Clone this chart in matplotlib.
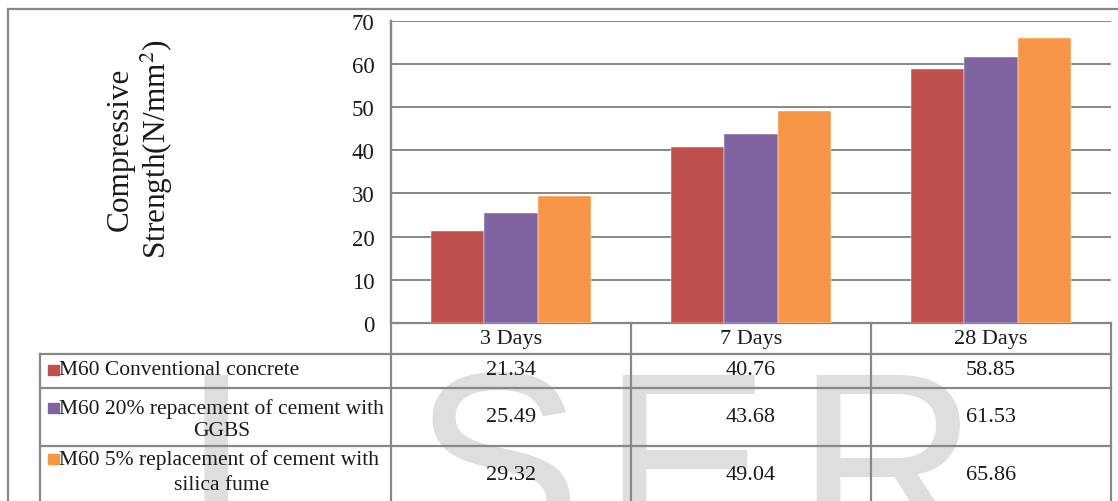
import matplotlib
matplotlib.use("Agg")
import matplotlib.pyplot as plt
import numpy as np

# ---- data -------------------------------------------------------------
categories = ["3 Days", "7 Days", "28 Days"]
series_names = [
    "M60 Conventional concrete",
    "M60 20% repacement of cement with\nGGBS",
    "M60 5% replacement of cement with\nsilica fume",
]
conventional = [21.34, 40.76, 58.85]
ggbs_20 = [25.49, 43.68, 61.53]
silica_fume_5 = [29.32, 49.04, 65.86]
series_values = [conventional, ggbs_20, silica_fume_5]
series_colors = ["#C0504D", "#8064A2", "#F79646"]
y_ticks = [0, 10, 20, 30, 40, 50, 60, 70]
y_label = "Compressive\nStrength(N/mm$^{2}$)"
watermark_letters = ["I", "S", "E", "R"]

# ---- style ------------------------------------------------------------
plt.rcParams["font.family"] = ["Liberation Serif", "DejaVu Serif"]
plt.rcParams["mathtext.fontset"] = "stix"
LINE = "#878787"
TEXT = "#1a1a1a"

W, H = 1118, 502
fig = plt.figure(figsize=(W / 100, H / 100), dpi=100)

# overlay in pixel coordinates for the frame, watermark and data table
ov = fig.add_axes([0, 0, 1, 1], zorder=0)
ov.set_xlim(0, W)
ov.set_ylim(H, 0)
ov.axis("off")

PL, PR, PT, PB = 391, 1111, 21.5, 324
ax = fig.add_axes([PL / W, 1 - PB / H, (PR - PL) / W, (PB - PT) / H], zorder=1)
ax.patch.set_alpha(0)

# ---- bars -------------------------------------------------------------
x = np.arange(len(categories))
bw = 0.222
for i, (vals, col) in enumerate(zip(series_values, series_colors)):
    ax.bar(x + (i - 1) * bw, vals, width=bw, color=col, zorder=3,
           edgecolor="white", linewidth=0.3)

ax.set_xlim(-0.5, len(categories) - 0.5)
ax.set_ylim(0, 70)
ax.set_yticks(y_ticks)
ax.set_xticks([])
ax.grid(axis="y", color=LINE, linewidth=1.4, zorder=0)
ax.tick_params(axis="y", length=0, pad=12, labelsize=16.5, labelcolor=TEXT)
for s in ["top", "right", "bottom"]:
    ax.spines[s].set_visible(False)
ax.spines["left"].set_color(LINE)
ax.spines["left"].set_linewidth(1.6)

# ---- outer frame ------------------------------------------------------
ov.plot([8, 8], [10, H], color=LINE, lw=1.6)
ov.plot([8, W], [10, 10], color=LINE, lw=1.6)

# ---- y label ----------------------------------------------------------
ov.text(140, 149, y_label, rotation=90, ha="center", va="center",
        fontsize=22.5, color=TEXT, linespacing=1.15)

# ---- watermark --------------------------------------------------------
for letter, xc in zip(watermark_letters, [216, 497, 686, 887]):
    ov.text(xc, 366, letter, ha="center", va="top", fontsize=182,
            family="Liberation Sans", color="#dedede", zorder=0.5)

# ---- data table -------------------------------------------------------
ncol = len(categories)
col_edges = [PL + k * (PR - PL) / ncol for k in range(ncol + 1)]
col_centers = [(col_edges[k] + col_edges[k + 1]) / 2 for k in range(ncol)]
row_edges = [355, 389, 447, H + 5]
TL = 40  # left edge of series-name column

# vertical lines
ov.plot([PL, PL], [PT, H], color=LINE, lw=1.6, zorder=2)
for xe in col_edges[1:]:
    ov.plot([xe, xe], [PB, H], color=LINE, lw=1.6, zorder=2)
ov.plot([TL, TL], [row_edges[0], H], color=LINE, lw=1.6, zorder=2)
# horizontal lines
ov.plot([PL, PR], [PB, PB], color=LINE, lw=1.6, zorder=2)
for ye in row_edges[:-1]:
    ov.plot([TL, PR], [ye, ye], color=LINE, lw=1.6, zorder=2)

# header
for xc, cat in zip(col_centers, categories):
    ov.text(xc, 340, cat, ha="center", va="center", fontsize=16, color=TEXT,
            zorder=3)

# rows
row_value_y = [371, 418, 476]
row_line_y = [(371, None), (409, 432), (460, 486)]
for r, (name, vals, col) in enumerate(zip(series_names, series_values,
                                          series_colors)):
    y1, y2 = row_line_y[r]
    ov.add_patch(plt.Rectangle((48, y1 - 5.5), 10.5, 10.5, color=col, zorder=3))
    parts = name.split("\n")
    ov.text(59, y1, parts[0], ha="left", va="center", fontsize=15.5,
            color=TEXT, zorder=3)
    if len(parts) > 1:
        ov.text(222, y2, parts[1], ha="center", va="center", fontsize=15.5,
                color=TEXT, zorder=3)
    for xc, v in zip(col_centers, vals):
        ov.text(xc, row_value_y[r], f"{v:.2f}", ha="center", va="center",
                fontsize=16, color=TEXT, zorder=3)

fig.savefig("out.png", dpi=100)
